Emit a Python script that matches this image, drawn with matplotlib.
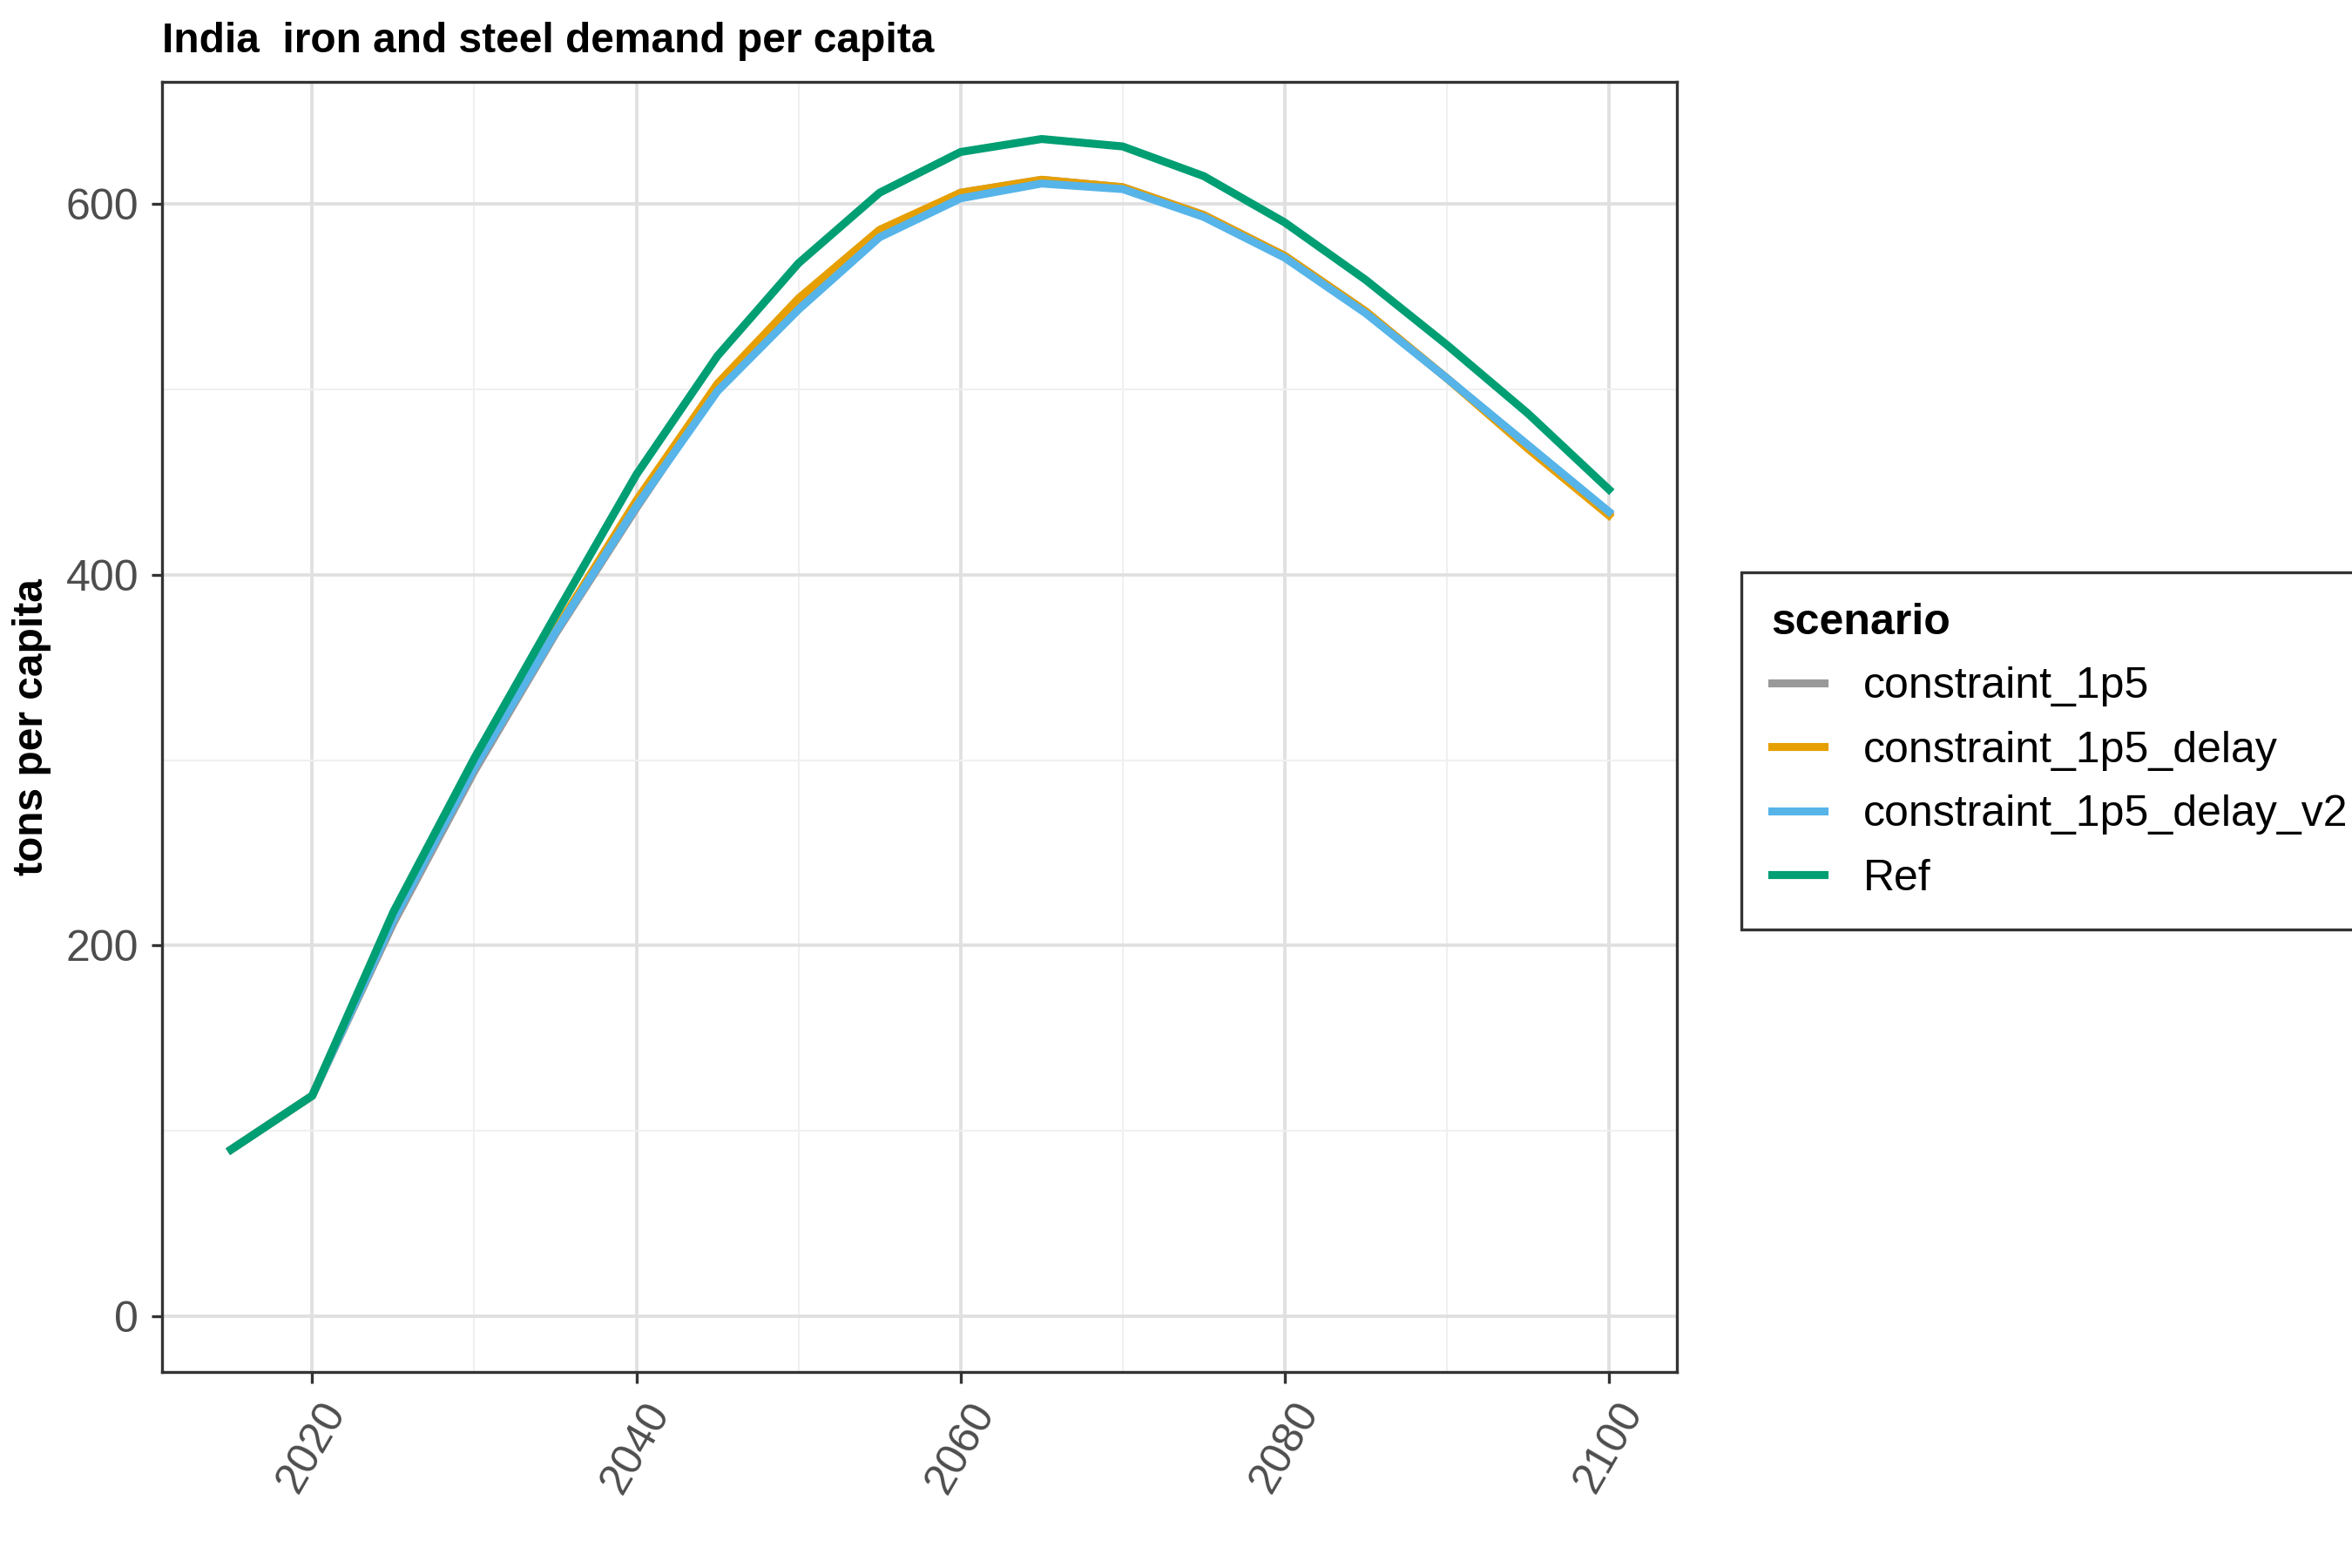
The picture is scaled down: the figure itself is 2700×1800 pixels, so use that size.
import matplotlib
matplotlib.use('Agg')
import matplotlib.pyplot as plt

plt.rcParams['font.family'] = ['Liberation Sans', 'DejaVu Sans']

years = [2015, 2020, 2025, 2030, 2035, 2040, 2045, 2050, 2055, 2060, 2065, 2070, 2075, 2080, 2085, 2090, 2095, 2100]
ref = [90, 119, 218, 301, 378, 454, 518, 568, 606, 628, 635, 631, 615, 590, 559, 524, 487, 446]
c1p5 = [90, 119, 212, 294, 368, 436, 501, 546, 584, 606, 613, 609, 594, 572, 542, 506, 469, 433]
c1p5_delay = [90, 119, 215, 297, 370, 440, 503, 549, 586, 606, 613, 609, 594, 572, 542, 506, 468, 432]
c1p5_delay_v2 = [90, 119, 214, 296, 369, 437, 499, 543, 582, 603, 611, 608, 593, 571, 541, 506, 470, 434]

fig = plt.figure(figsize=(9, 6), dpi=300)
ax = fig.add_axes([0.069, 0.125, 0.644, 0.823])

ax.plot(years, c1p5, color='#999999', lw=2.2, label='constraint_1p5')
ax.plot(years, c1p5_delay, color='#E69F00', lw=2.2, label='constraint_1p5_delay')
ax.plot(years, c1p5_delay_v2, color='#56B4E9', lw=2.2, label='constraint_1p5_delay_v2')
ax.plot(years, ref, color='#009E73', lw=2.2, label='Ref')

ax.set_xlim(2010.75, 2104.2)
ax.set_ylim(-30, 666)
ax.set_xticks([2020, 2040, 2060, 2080, 2100])
ax.set_xticks([2030, 2050, 2070, 2090], minor=True)
ax.set_yticks([0, 200, 400, 600])
ax.set_yticks([100, 300, 500], minor=True)
ax.grid(which='major', color='#e0e0e0', lw=0.9)
ax.grid(which='minor', color='#f0f0f0', lw=0.5)
ax.set_axisbelow(True)
ax.tick_params(which='major', length=3, color='#333333', labelsize=12, labelcolor='#4d4d4d')
ax.tick_params(which='minor', length=0)
plt.setp(ax.get_xticklabels(), rotation=60, ha='center', va='top')
for s in ax.spines.values():
    s.set_color('#333333')
    s.set_linewidth(0.8)

ax.set_ylabel('tons per capita', fontsize=11.5, fontweight='bold')
ax.set_title('India  iron and steel demand per capita', loc='left', fontsize=11.5,
             fontweight='bold', x=0.0, pad=8)

leg = fig.legend(loc='upper left', bbox_to_anchor=(0.731, 0.649), title='scenario',
                 fontsize=12, title_fontsize=12, frameon=True, fancybox=False,
                 edgecolor='black', handlelength=1.2, borderpad=0.7, labelspacing=0.55,
                 handletextpad=0.9)
leg.get_title().set_fontweight('bold')
leg._legend_box.align = 'left'
leg.get_frame().set_linewidth(0.8)

fig.savefig('out.png', dpi=300)
